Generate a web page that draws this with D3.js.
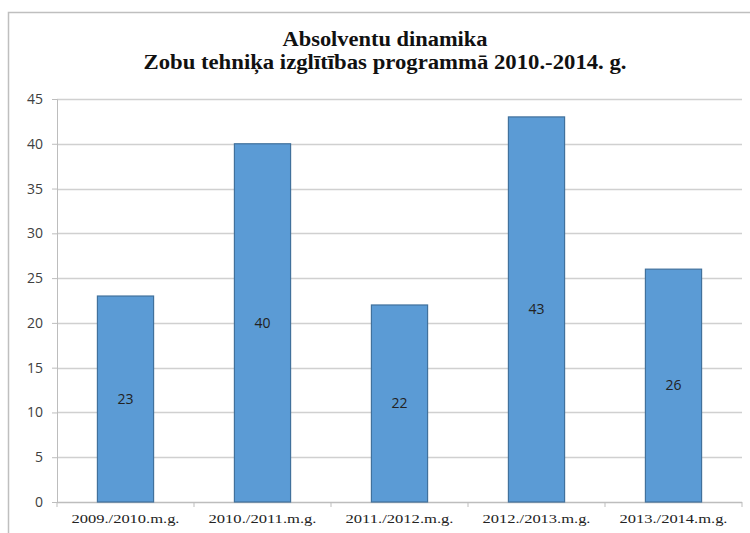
<!DOCTYPE html>
<html lang="lv">
<head>
<meta charset="UTF-8">
<title>Absolventu dinamika</title>
<style>
  html, body { margin: 0; padding: 0; background: #fff; }
  svg { display: block; }
</style>
</head>
<body>
<svg id="chart" width="750" height="533"></svg>
<script src="https://d3js.org/d3.v7.min.js"></script>
<script>
const categories = ['2009./2010.m.g.', '2010./2011.m.g.', '2011./2012.m.g.', '2012./2013.m.g.', '2013./2014.m.g.'];
const values = [23, 40, 22, 43, 26];
const yTicks = [0, 5, 10, 15, 20, 25, 30, 35, 40, 45];
const titleLines = ['Absolventu dinamika', 'Zobu tehniķa izglītības programmā 2010.-2014. g.'];
const titleWidths = [205, 483];

const svg = d3.select('#chart');
const margin = { top: 99, right: 8, bottom: 31, left: 57 };
const width = +svg.attr('width');
const height = +svg.attr('height');
const innerWidth = width - margin.left - margin.right;
const innerHeight = height - margin.top - margin.bottom;

// chart frame
svg.append('path')
  .attr('d', `M8.5,${height} V12.5 H${width}`)
  .attr('fill', 'none')
  .attr('stroke', '#bfbfbf')
  .attr('stroke-width', 1.5);

// title (text stretched wide like the original picture)
svg.append('g')
  .selectAll('text').data(titleLines).enter().append('text')
  .attr('x', 385)
  .attr('y', (d, i) => 46 + i * 23)
  .attr('text-anchor', 'middle')
  .attr('font-family', '"Liberation Serif", "Times New Roman", serif')
  .attr('font-weight', 'bold')
  .attr('font-size', 20)
  .attr('fill', '#111')
  .attr('textLength', (d, i) => titleWidths[i])
  .attr('lengthAdjust', 'spacingAndGlyphs')
  .text(d => d);

const g = svg.append('g').attr('transform', `translate(${margin.left},${margin.top})`);

const x = d3.scaleBand().domain(categories).range([0, innerWidth]).paddingInner(0.59).paddingOuter(0.295);
const y = d3.scaleLinear().domain([0, 45]).range([innerHeight, 0]);

// gridlines
g.append('g')
  .selectAll('line').data(yTicks.filter(d => d > 0)).enter().append('line')
  .attr('x1', 0).attr('x2', innerWidth)
  .attr('y1', d => Math.round(y(d)) + 0.5).attr('y2', d => Math.round(y(d)) + 0.5)
  .attr('stroke', '#d0d0d0')
  .attr('stroke-width', 1.5);

// y axis
const yAxis = g.append('g')
  .call(d3.axisLeft(y).tickValues(yTicks).tickSize(5).tickPadding(9));
yAxis.select('.domain').attr('stroke', '#bdbdbd');
yAxis.selectAll('.tick line').attr('stroke', '#bdbdbd');
yAxis.selectAll('.tick text')
  .attr('font-family', '"Open Sans", "DejaVu Sans", sans-serif')
  .attr('font-size', 14)
  .attr('fill', '#404040');

// x axis
const xb = d3.scaleLinear().domain([0, categories.length]).range([0, innerWidth]);
const xAxis = g.append('g').attr('transform', `translate(0,${innerHeight})`);
xAxis.append('line')
  .attr('x1', 0).attr('x2', innerWidth)
  .attr('y1', 0.5).attr('y2', 0.5)
  .attr('stroke', '#bdbdbd').attr('stroke-width', 1.5);
xAxis.selectAll('.xtick').data(d3.range(categories.length + 1)).enter().append('line')
  .attr('x1', d => xb(d)).attr('x2', d => xb(d))
  .attr('y1', 0).attr('y2', 5)
  .attr('stroke', '#bdbdbd');
xAxis.selectAll('.xlabel').data(categories).enter().append('text')
  .attr('x', d => x(d) + x.bandwidth() / 2)
  .attr('y', 21)
  .attr('text-anchor', 'middle')
  .attr('font-family', '"Liberation Serif", "Times New Roman", serif')
  .attr('font-size', 13)
  .attr('fill', '#222')
  .attr('textLength', 108)
  .attr('lengthAdjust', 'spacingAndGlyphs')
  .text(d => d);

// bars
g.selectAll('.bar').data(values).enter().append('rect')
  .attr('x', (d, i) => x(categories[i]))
  .attr('y', d => y(d))
  .attr('width', x.bandwidth())
  .attr('height', d => innerHeight - y(d))
  .attr('fill', '#5b9bd5')
  .attr('stroke', '#41719c')
  .attr('stroke-width', 1.2);

// data labels
g.selectAll('.label').data(values).enter().append('text')
  .attr('x', (d, i) => x(categories[i]) + x.bandwidth() / 2)
  .attr('y', d => y(d / 2))
  .attr('dy', '0.35em')
  .attr('text-anchor', 'middle')
  .attr('font-family', '"Open Sans", "DejaVu Sans", sans-serif')
  .attr('font-size', 14)
  .attr('fill', '#222')
  .text(d => d);
</script>
</body>
</html>
